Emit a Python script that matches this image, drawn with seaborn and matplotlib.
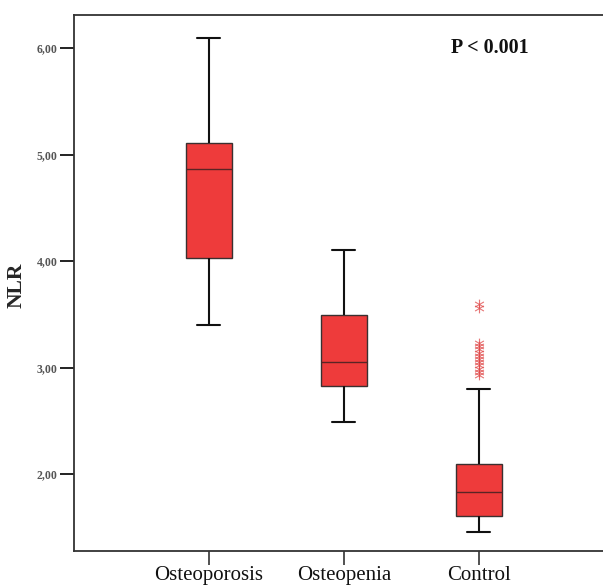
import numpy as np
import pandas as pd
import matplotlib
matplotlib.use("Agg")
import matplotlib.pyplot as plt
import matplotlib.ticker as mticker
import seaborn as sns

# five-number summaries (low whisker, Q1, median, Q3, high whisker)
groups = ["Osteoporosis", "Osteopenia", "Control"]
osteoporosis = [3.40, 4.03, 4.86, 5.11, 6.09]
osteopenia = [2.49, 2.83, 3.05, 3.49, 4.10]
control = [1.46, 1.61, 1.83, 2.09, 2.80]
# outliers drawn above the Control box
control_outliers = [2.93, 2.96, 2.99, 3.02, 3.05, 3.08, 3.11, 3.14, 3.17, 3.20, 3.23, 3.56, 3.60]
y_ticks = [2, 3, 4, 5, 6]

sns.set_style("ticks")
plt.rcParams["font.family"] = ["Liberation Serif", "DejaVu Serif"]

df = pd.DataFrame({
    "group": ["Osteoporosis"] * 5 + ["Osteopenia"] * 5 + ["Control"] * 5,
    "NLR": osteoporosis + osteopenia + control,
})
out_df = pd.DataFrame({"group": ["Control"] * len(control_outliers), "NLR": control_outliers})

fig = plt.figure(figsize=(6.03, 5.85), dpi=100)
ax = fig.add_axes([0.1227, 0.0581, 0.8773, 0.9162])

sns.boxplot(data=df, x="group", y="NLR", order=groups, color="#ee3b3b", saturation=1,
            width=0.34, linewidth=1.0, linecolor="#3a3030", whis=1.5, showfliers=False,
            medianprops={"color": "#5a2424", "linewidth": 1.0},
            whiskerprops={"color": "#111111", "linewidth": 1.5},
            capprops={"color": "#111111", "linewidth": 1.5},
            ax=ax)
sns.stripplot(data=out_df, x="group", y="NLR", order=groups, jitter=False, marker="$*$",
              color="#e04848", alpha=0.75, size=7, ax=ax)

ax.set_xlim(-1.0, 2.92)
ax.set_ylim(1.277, 6.31)
ax.yaxis.set_major_locator(mticker.FixedLocator(y_ticks))
ax.yaxis.set_major_formatter(mticker.FuncFormatter(lambda v, p: f"{v:.2f}".replace(".", ",")))

for s in ["left", "bottom", "top"]:
    ax.spines[s].set_color("#333333")
    ax.spines[s].set_linewidth(1.3)
ax.spines["right"].set_visible(False)

ax.tick_params(axis="y", length=10, width=1.4, color="#222222", labelsize=8.5, labelcolor="#555555", pad=2)
ax.tick_params(axis="x", length=10, width=1.2, color="#333333", labelsize=15, labelcolor="#111111", pad=0.5)
for lab in ax.get_yticklabels():
    lab.set_fontweight("bold")

ax.set_xlabel("")
ax.set_ylabel("NLR", fontsize=15.5, fontweight="bold")
ax.yaxis.set_label_coords(-0.089, 0.496)

ax.text(2.08, 6.0, "P < 0.001", fontsize=14.5, fontweight="bold", ha="center", va="center", color="#111111")

fig.savefig("out.png", dpi=100, facecolor="white")
